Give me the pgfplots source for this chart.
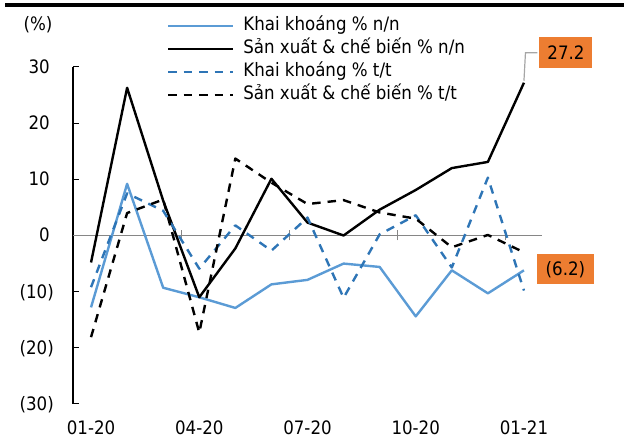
\documentclass[border=0pt]{standalone}
\usepackage{fontspec}
\setmainfont{DejaVu Sans Condensed}
\usepackage{pgfplots}
\pgfplotsset{compat=1.18}
\definecolor{kkblue}{HTML}{5B9BD5}
\definecolor{kkdash}{HTML}{2E75B6}
\definecolor{lblorange}{HTML}{ED7D31}
\definecolor{zerogray}{HTML}{868686}
\newcommand{\chartfont}{\fontsize{18.5}{22}\selectfont}

% monthly index values, Jan-2020 .. Jan-2021 (x = 0..12)
\pgfplotstableread{
x kknn sxnn kktt sxtt
0 -12.8 -4.8 -9.2 -18.1
1 9.2 26.3 7.5 4.0
2 -9.3 6.2 4.4 6.4
3 -11.0 -11.0 -5.9 -17.3
4 -12.9 -2.3 1.8 13.7
5 -8.7 10.1 -2.7 9.4
6 -7.9 2.3 3.2 5.6
7 -5.0 0.0 -11.1 6.3
8 -5.6 4.6 0.2 4.1
9 -14.4 8.1 3.6 3.0
10 -6.2 12.0 -5.7 -2.1
11 -10.3 13.1 10.3 0.1
12 -6.2 27.2 -9.8 -3.0
}\datatable

\begin{document}
\begin{tikzpicture}[x=1pt,y=1pt]
\useasboundingbox (0,0) rectangle (624,444);
\fill[black] (5,437.3) rectangle (624,440.7);
\node[font=\chartfont] at (38,419) {(\%)};
\begin{axis}[
  at={(73pt,40pt)}, anchor=south west,
  scale only axis, width=469pt, height=337pt,
  xmin=-0.5, xmax=12.5, ymin=-30, ymax=30,
  axis x line*=bottom, axis y line*=left,
  x axis line style={draw=none},
  y axis line style={black, line width=1.2pt},
  xtick={0,3,6,9,12},
  xticklabels={01-20,04-20,07-20,10-20,01-21},
  major x tick style={draw=none},
  ytick={-30,-20,-10,0,10,20,30},
  yticklabels={(30),(20),(10),0\kern4pt,10\kern4pt,20\kern4pt,30\kern4pt},
  major y tick style={black, line width=1pt},
  tick align=inside, major tick length=6pt,
  ticklabel style={font=\chartfont},
  yticklabel style={anchor=base east, inner sep=0pt, xshift=-19pt, yshift=-6.5pt},
  xticklabel style={anchor=base, inner sep=0pt, yshift=-30.5pt},
  clip=false,
  legend style={at={(0.2004,1.147)}, anchor=north west, draw=none, fill=none,
    inner sep=0pt, outer sep=0pt, font=\chartfont, row sep=6pt, column sep=9pt,
    nodes={inner sep=0pt, text height=13.5pt, text depth=3.5pt}},
  legend cell align=left,
  legend image code/.code={\draw[#1] (0pt,0pt) -- (65pt,0pt);},
  every axis plot/.append style={line width=2.4pt, line join=round, mark=none},
]
% zero line with quarterly separators
\draw[zerogray, line width=1.5pt] (axis cs:-0.5,0) -- (axis cs:12.5,0);
\pgfplotsinvokeforeach{2.5,5.5,8.5,11.5}{
  \draw[zerogray, line width=1pt] ([yshift=-5pt]axis cs:#1,0) -- ([yshift=5pt]axis cs:#1,0);
}
\addplot[kkblue] table[x=x, y=kknn] {\datatable};
\addlegendentry{Khai khoáng \% n/n}
\addplot[black] table[x=x, y=sxnn] {\datatable};
\addlegendentry{Sản xuất \& chế biến \% n/n}
\addplot[kkdash, dash pattern=on 8.5pt off 7pt] table[x=x, y=kktt] {\datatable};
\addlegendentry{Khai khoáng \% t/t}
\addplot[black, dash pattern=on 8.5pt off 7pt] table[x=x, y=sxtt] {\datatable};
\addlegendentry{Sản xuất \& chế biến \% t/t}
% value callouts for the latest month
\draw[black!35, line width=1.2pt] ([yshift=2pt]axis cs:12,27.2) -- ++(1.5pt,28pt) -- ++(12pt,0pt);
\node[fill=lblorange, minimum width=53pt, minimum height=31pt, inner sep=0pt,
  font=\chartfont, xshift=42pt, yshift=30pt] at (axis cs:12,27.2) {27.2};
\node[fill=lblorange, minimum width=57pt, minimum height=30pt, inner sep=0pt,
  font=\chartfont, xshift=41.5pt, yshift=1pt] at (axis cs:12,-6.2) {(6.2)};
\end{axis}
\end{tikzpicture}
\end{document}
